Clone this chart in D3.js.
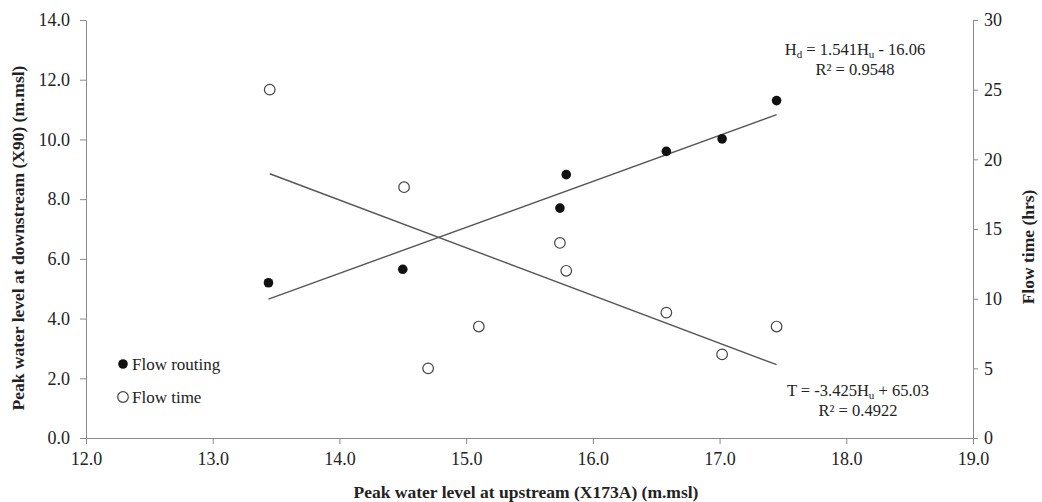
<!DOCTYPE html>
<html>
<head>
<meta charset="utf-8">
<script src="https://cdn.jsdelivr.net/npm/d3@7"></script>
<style>
  body { margin: 0; background: #fff; }
  svg text { font-family: "Liberation Serif", "Times New Roman", serif; fill: #222; }
</style>
</head>
<body>
<svg id="container"></svg>
<script>
// values
const upstreamRouting = [13.44, 14.50, 15.74, 15.79, 16.58, 17.02, 17.45];
const downstreamLevel = [5.2, 5.65, 7.7, 8.82, 9.6, 10.02, 11.3];
const upstreamTime = [13.45, 14.51, 14.70, 15.10, 15.74, 15.79, 16.58, 17.02, 17.45];
const flowTime = [25, 18, 5, 8, 14, 12, 9, 6, 8];

// trend line coefficients shown on the chart
const routingFit = {slope: 1.541, intercept: -16.06};
const timeFit = {slope: -3.425, intercept: 65.03};

const xTicks = [12, 13, 14, 15, 16, 17, 18, 19];
const yLeftTicks = [0, 2, 4, 6, 8, 10, 12, 14];
const yRightTicks = [0, 5, 10, 15, 20, 25, 30];

let width = 1042, height = 502;
var margin = {top: 20, right: 69, bottom: 64, left: 86};

let svg = d3.select("#container")
    .attr("width", width)
    .attr("height", height);

const x = d3.scaleLinear().domain([12, 19]).range([margin.left, width - margin.right]);
const yLeft = d3.scaleLinear().domain([0, 14]).range([height - margin.bottom, margin.top]);
const yRight = d3.scaleLinear().domain([0, 30]).range([height - margin.bottom, margin.top]);

const axisColor = "#8a8a8a";
const fontSize = "18px";

function styleAxis(g) {
    g.selectAll(".domain").attr("stroke", axisColor);
    g.selectAll(".tick line").attr("stroke", axisColor);
    g.selectAll(".tick text")
        .style("font-size", fontSize)
        .style("font-family", "Liberation Serif, serif")
        .attr("fill", "#222");
}

// x axis
svg.append("g")
    .attr("transform", "translate(0," + (height - margin.bottom) + ")")
    .call(d3.axisBottom(x).tickValues(xTicks).tickFormat(d3.format(".1f")).tickSize(6).tickSizeOuter(0).tickPadding(8))
    .call(styleAxis);

// left axis
svg.append("g")
    .attr("transform", "translate(" + margin.left + ",0)")
    .call(d3.axisLeft(yLeft).tickValues(yLeftTicks).tickFormat(d3.format(".1f")).tickSize(6).tickSizeOuter(0).tickPadding(10))
    .call(styleAxis);

// right axis
svg.append("g")
    .attr("transform", "translate(" + (width - margin.right) + ",0)")
    .call(d3.axisRight(yRight).tickValues(yRightTicks).tickSize(5).tickSizeOuter(0).tickPadding(6))
    .call(styleAxis);

// axis titles
svg.append("text")
    .attr("x", 526)
    .attr("y", 498)
    .attr("text-anchor", "middle")
    .style("font-size", "17.5px")
    .style("font-weight", "bold")
    .text("Peak water level at upstream (X173A) (m.msl)");

svg.append("text")
    .attr("transform", "translate(18,238) rotate(-90)")
    .attr("text-anchor", "middle")
    .attr("dy", "0.35em")
    .style("font-size", "17.5px")
    .style("font-weight", "bold")
    .text("Peak water level at downstream (X90) (m.msl)");

svg.append("text")
    .attr("transform", "translate(1028,247) rotate(-90)")
    .attr("text-anchor", "middle")
    .attr("dy", "0.35em")
    .style("font-size", "17.5px")
    .style("font-weight", "bold")
    .text("Flow time (hrs)");

// trend lines
const line = d3.line().x(d => x(d[0])).y(d => d[1]);

const rExt = d3.extent(upstreamRouting);
svg.append("path")
    .datum(rExt.map(u => [u, yLeft(routingFit.slope * u + routingFit.intercept)]))
    .attr("d", line)
    .attr("fill", "none")
    .attr("stroke", "#555")
    .attr("stroke-width", 1.4);

const tExt = d3.extent(upstreamTime);
svg.append("path")
    .datum(tExt.map(u => [u, yRight(timeFit.slope * u + timeFit.intercept)]))
    .attr("d", line)
    .attr("fill", "none")
    .attr("stroke", "#555")
    .attr("stroke-width", 1.4);

// flow routing points
svg.append("g")
    .selectAll("circle")
    .data(upstreamRouting.map((u, i) => [u, downstreamLevel[i]]))
    .enter()
    .append("circle")
        .attr("cx", d => x(d[0]))
        .attr("cy", d => yLeft(d[1]))
        .attr("r", 4.8)
        .attr("fill", "#111");

// flow time points
svg.append("g")
    .selectAll("circle")
    .data(upstreamTime.map((u, i) => [u, flowTime[i]]))
    .enter()
    .append("circle")
        .attr("cx", d => x(d[0]))
        .attr("cy", d => yRight(d[1]))
        .attr("r", 5.3)
        .attr("fill", "#fff")
        .attr("stroke", "#444")
        .attr("stroke-width", 1.2);

// equations, subscripts done with baseline-shift so the line box stays put
function equation(cx, cy, parts, r2) {
    let t = svg.append("text")
        .attr("x", cx)
        .attr("y", cy)
        .attr("text-anchor", "middle")
        .style("font-size", "16.5px");
    parts.forEach(p => {
        if (p.sub) {
            t.append("tspan").attr("baseline-shift", "-3").style("font-size", "11px").text(p.sub);
        } else {
            t.append("tspan").text(p.text);
        }
    });
    svg.append("text")
        .attr("x", cx)
        .attr("y", cy + 20)
        .attr("text-anchor", "middle")
        .style("font-size", "16.5px")
        .text(r2);
}

equation(855, 55, [{text: "H"}, {sub: "d"}, {text: " = 1.541H"}, {sub: "u"}, {text: " - 16.06"}], "R² = 0.9548");
equation(858, 396, [{text: "T = -3.425H"}, {sub: "u"}, {text: " + 65.03"}], "R² = 0.4922");

// legend
const legend = svg.append("g").attr("transform", "translate(123,364)");
legend.append("circle").attr("r", 4.8).attr("fill", "#111");
legend.append("text").attr("x", 9).attr("dy", "0.35em").style("font-size", "17px").text("Flow routing");
legend.append("circle").attr("cy", 33).attr("r", 5.3).attr("fill", "#fff").attr("stroke", "#444").attr("stroke-width", 1.2);
legend.append("text").attr("x", 9).attr("y", 33).attr("dy", "0.35em").style("font-size", "17px").text("Flow time");
</script>
</body>
</html>
